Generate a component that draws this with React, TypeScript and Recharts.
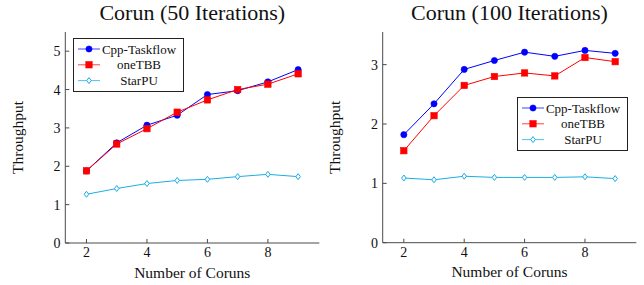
import React from 'react';
import { LineChart, Line, XAxis, YAxis, Legend } from 'recharts';

const FONT = '"Liberation Serif", "Times New Roman", serif';

const coruns = [2, 3, 4, 5, 6, 7, 8, 9];
const cpp50 = [1.88, 2.61, 3.07, 3.33, 3.87, 3.97, 4.2, 4.52];
const tbb50 = [1.88, 2.58, 2.98, 3.41, 3.73, 4.0, 4.14, 4.41];
const starpu50 = [1.27, 1.42, 1.55, 1.63, 1.66, 1.73, 1.79, 1.73];
const cpp100 = [1.82, 2.34, 2.92, 3.07, 3.21, 3.14, 3.24, 3.19];
const tbb100 = [1.55, 2.14, 2.65, 2.8, 2.86, 2.81, 3.12, 3.05];
const starpu100 = [1.09, 1.06, 1.12, 1.1, 1.1, 1.1, 1.11, 1.08];

const xTicks = [2, 4, 6, 8];
const yTicks50 = [0, 1, 2, 3, 4, 5];
const yTicks100 = [0, 1, 2, 3];
const seriesNames = ['Cpp-Taskflow', 'oneTBB', 'StarPU'];
const seriesKeys = ['cpp', 'tbb', 'starpu'];
const seriesColors = ['#0000ff', '#ff0000', '#1aaee6'];
const seriesMarkers = ['circle', 'square', 'diamond'];

const AXIS = '#4a4a4a';
const TEXT = '#111';

function buildRows(a: number[], b: number[], c: number[]) {
  return coruns.map((x, i) => ({ x, cpp: a[i], tbb: b[i], starpu: c[i] }));
}

const data50 = buildRows(cpp50, tbb50, starpu50);
const data100 = buildRows(cpp100, tbb100, starpu100);

function Marker({ kind, cx, cy, color }: any) {
  if (cx == null || cy == null) return null;
  if (kind === 'circle') return <circle cx={cx} cy={cy} r={3.1} fill={color} stroke={color} strokeWidth={0.6} />;
  if (kind === 'square')
    return <rect x={cx - 3.2} y={cy - 3.2} width={6.4} height={6.4} fill={color} stroke={color} strokeWidth={0.6} />;
  const s = 3;
  return (
    <polygon
      points={`${cx},${cy - s} ${cx + s * 0.75},${cy} ${cx},${cy + s} ${cx - s * 0.75},${cy}`}
      fill="#ffffff"
      stroke={color}
      strokeWidth={1}
    />
  );
}

function LegendBox() {
  return (
    <svg width={111} height={54} style={{ display: 'block' }}>
      <rect x={0.5} y={0.5} width={110} height={53} fill="#ffffff" stroke="#222" strokeWidth={1} />
      {seriesNames.map((name, i) => {
        const y = 11 + i * 15.8;
        return (
          <g key={name}>
            <line x1={5} x2={27} y1={y} y2={y} stroke={seriesColors[i]} strokeWidth={1} strokeOpacity={0.75} />
            <Marker kind={seriesMarkers[i]} cx={16} cy={y} color={seriesColors[i]} />
            <text x={66} y={y + 4.5} textAnchor="middle" fontSize={13} fontFamily={FONT} fill={TEXT}>
              {name}
            </text>
          </g>
        );
      })}
    </svg>
  );
}

function Panel({ title, data, yMax, yTicks, left, plotLeft, plotRight, plotBottom, legendLeft, legendTop, yLabelDx }: any) {
  const W = 322;
  const H = 285;
  return (
    <div style={{ position: 'absolute', left, top: 0, width: W, height: H }}>
      <div
        style={{
          position: 'absolute',
          left: plotLeft,
          width: plotRight - plotLeft,
          top: 0,
          textAlign: 'center',
          fontSize: 22,
          lineHeight: 'normal',
          fontFamily: FONT,
          color: TEXT,
          whiteSpace: 'nowrap',
        }}
      >
        {title}
      </div>
      <LineChart width={W} height={H} data={data} margin={{ top: 32, right: W - plotRight, bottom: 0, left: 0 }}>
        <XAxis
          xAxisId="b"
          dataKey="x"
          type="number"
          domain={[1.3, 9.7]}
          ticks={xTicks}
          allowDataOverflow
          height={H - plotBottom}
          tickSize={-4}
          tickMargin={8}
          stroke={AXIS}
          tick={{ fill: TEXT, fontSize: 14, fontFamily: FONT }}
          label={{ value: 'Number of Coruns', position: 'center', dy: 8, fontSize: 15.5, fontFamily: FONT, fill: TEXT }}
        />
        <XAxis
          xAxisId="t"
          orientation="top"
          dataKey="x"
          type="number"
          domain={[1.3, 9.7]}
          ticks={xTicks}
          allowDataOverflow
          height={0}
          mirror
          tick={false}
          tickSize={4}
          stroke={AXIS}
        />
        <YAxis
          yAxisId="l"
          type="number"
          domain={[0, yMax]}
          ticks={yTicks}
          allowDataOverflow
          width={plotLeft}
          tickSize={-4}
          tickMargin={8.7}
          stroke={AXIS}
          tick={{ fill: TEXT, fontSize: 14, fontFamily: FONT }}
          label={{ value: 'Throughput', angle: -90, position: 'center', dx: yLabelDx, fontSize: 15.5, fontFamily: FONT, fill: TEXT }}
        />
        <YAxis
          yAxisId="r"
          orientation="right"
          type="number"
          domain={[0, yMax]}
          ticks={yTicks}
          allowDataOverflow
          width={0}
          mirror
          tick={false}
          tickSize={4}
          stroke={AXIS}
        />
        {[2, 0, 1].map((i) => (
          <Line
            key={seriesKeys[i]}
            xAxisId="b"
            yAxisId="l"
            type="linear"
            dataKey={seriesKeys[i]}
            name={seriesNames[i]}
            stroke={seriesColors[i]}
            strokeWidth={1}
            isAnimationActive={false}
            dot={(p: any) => <Marker key={`${seriesKeys[i]}-${p.index}`} kind={seriesMarkers[i]} cx={p.cx} cy={p.cy} color={seriesColors[i]} />}
            activeDot={false}
          />
        ))}
        <Legend
          layout="vertical"
          align="center"
          verticalAlign="middle"
          content={() => <LegendBox />}
          wrapperStyle={{ left: legendLeft, top: legendTop, width: 111, height: 54 }}
        />
      </LineChart>
    </div>
  );
}

export default function App() {
  return (
    <div style={{ position: 'absolute', left: 0, top: 0, width: 644, height: 285, background: '#ffffff' }}>
      <Panel
        title="Corun (50 Iterations)"
        data={data50}
        yMax={5.5}
        yTicks={yTicks50}
        left={0}
        plotLeft={65.3}
        plotRight={319.3}
        plotBottom={243}
        legendLeft={72.5}
        legendTop={37.5}
        yLabelDx={-15.2}
      />
      <Panel
        title="Corun (100 Iterations)"
        data={data100}
        yMax={3.55}
        yTicks={yTicks100}
        left={322}
        plotLeft={60.7}
        plotRight={314.3}
        plotBottom={242.7}
        legendLeft={195}
        legendTop={97}
        yLabelDx={-17.5}
      />
    </div>
  );
}
